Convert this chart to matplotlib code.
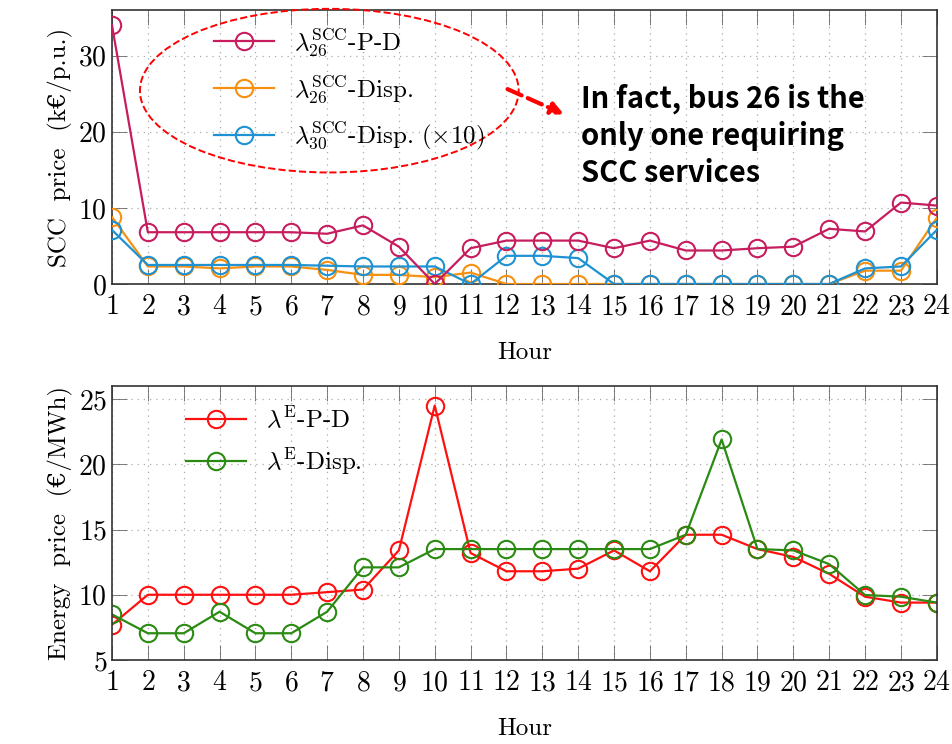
import numpy as np
import matplotlib
matplotlib.use('Agg')
import matplotlib.pyplot as plt
from matplotlib.patches import Ellipse

plt.rcParams['font.family'] = ['cmr10', 'DejaVu Serif']
plt.rcParams['mathtext.fontset'] = 'cm'
plt.rcParams['axes.formatter.use_mathtext'] = True

hours = list(range(1, 25))

# SCC prices (k€/p.u.)
scc26_pd = [34.0, 6.8, 6.8, 6.8, 6.8, 6.8, 6.6, 7.7, 4.9, 0.0, 4.7, 5.7,
            5.7, 5.7, 4.7, 5.7, 4.4, 4.4, 4.7, 4.9, 7.25, 6.9, 10.7, 10.3]
scc26_disp = [8.8, 2.3, 2.3, 2.05, 2.3, 2.3, 1.85, 1.2, 1.2, 0.9, 1.5, 0.0,
              0.0, 0.0, 0.0, 0.0, 0.0, 0.0, 0.0, 0.0, 0.0, 1.75, 1.75, 8.7]
scc30_disp = [7.1, 2.5, 2.5, 2.5, 2.5, 2.5, 2.4, 2.3, 2.3, 2.3, 0.0, 3.7,
              3.7, 3.4, 0.0, 0.0, 0.0, 0.0, 0.0, 0.0, 0.0, 2.05, 2.3, 7.1]

# energy prices (€/MWh)
e_pd = [7.7, 10.0, 10.0, 10.0, 10.0, 10.0, 10.2, 10.4, 13.4, 24.5, 13.2, 11.8,
        11.8, 12.0, 13.4, 11.8, 14.6, 14.6, 13.5, 12.9, 11.6, 9.85, 9.4, 9.4]
e_disp = [8.5, 7.05, 7.05, 8.7, 7.05, 7.05, 8.7, 12.1, 12.1, 13.5, 13.5, 13.5,
          13.5, 13.5, 13.5, 13.5, 14.6, 21.9, 13.5, 13.4, 12.35, 9.98, 9.85, 9.4]

fig = plt.figure(figsize=(9.53, 7.44), dpi=100)
ax1 = fig.add_axes([0.1175, 0.6183, 0.8655, 0.3683])
ax2 = fig.add_axes([0.1175, 0.1129, 0.8655, 0.3683])

mk = dict(marker='o', markerfacecolor='none', markersize=12.5, markeredgewidth=1.5, linewidth=1.6)

ax1.plot(hours, scc26_pd, color='#c71d5e', label=r'$\mathrm{\lambda}_{26}^{\mathrm{SCC}}$-P-D', zorder=4, **mk)
ax1.plot(hours, scc26_disp, color='#f7900f', label=r'$\mathrm{\lambda}_{26}^{\mathrm{SCC}}$-Disp.', zorder=3, **mk)
ax1.plot(hours, scc30_disp, color='#1e92d2', label=r'$\mathrm{\lambda}_{30}^{\mathrm{SCC}}$-Disp. ($\times10$)', zorder=3, **mk)

ax2.plot(hours, e_pd, color='#ff1010', label=r'$\mathrm{\lambda}^{\mathrm{E}}$-P-D', **mk)
ax2.plot(hours, e_disp, color='#2a8a12', label=r'$\mathrm{\lambda}^{\mathrm{E}}$-Disp.', **mk)

for ax in (ax1, ax2):
    ax.set_xlim(1, 24)
    ax.set_xticks(hours)
    ax.tick_params(direction='in', top=True, right=True, labelsize=20, length=11, width=0.6, color='#666666')
    ax.tick_params(axis='x', pad=7)
    ax.grid(True, linestyle=(0, (1, 4)), color='#aaaaaa', linewidth=0.9)
    for s in ax.spines.values():
        s.set_linewidth(1.2)
        s.set_color('#333333')
    ax.set_xlabel('Hour', fontsize=18, labelpad=16)

ax1.set_ylim(0, 36)
ax1.set_yticks([0, 10, 20, 30])
ax1.set_ylabel('SCC  price  (k€/p.u.)', fontsize=18, labelpad=4)
ax2.set_ylim(5, 26)
ax2.set_yticks([5, 10, 15, 20, 25])
ax2.set_ylabel('Energy  price  (€/MWh)', fontsize=18, labelpad=4)

ax1.legend(loc='upper left', bbox_to_anchor=(0.105, 0.995), frameon=False, fontsize=18,
           handlelength=2.4, labelspacing=0.6, borderaxespad=0.2)
ax2.legend(loc='upper left', bbox_to_anchor=(0.072, 0.98), frameon=False, fontsize=18,
           handlelength=2.4, labelspacing=0.55, borderaxespad=0.2)

ell = Ellipse((7.06, 25.4), 10.56, 21.5, fill=False, edgecolor='red', linestyle='--',
              linewidth=1.4, clip_on=False, zorder=5)
ax1.add_patch(ell)
ax1.annotate('', xy=(13.6, 22.3), xytext=(12.03, 25.6),
             arrowprops=dict(arrowstyle='-|>', color='red', linestyle='--', linewidth=3,
                             mutation_scale=18, shrinkA=0, shrinkB=0))
ax1.text(14.07, 26.4, 'In fact, bus 26 is the\nonly one requiring\nSCC services',
         fontsize=21, fontweight='bold', family=['Noto Sans CJK SC', 'DejaVu Sans'],
         va='top', ha='left', linespacing=1.3)

fig.savefig('out.png', dpi=100)
